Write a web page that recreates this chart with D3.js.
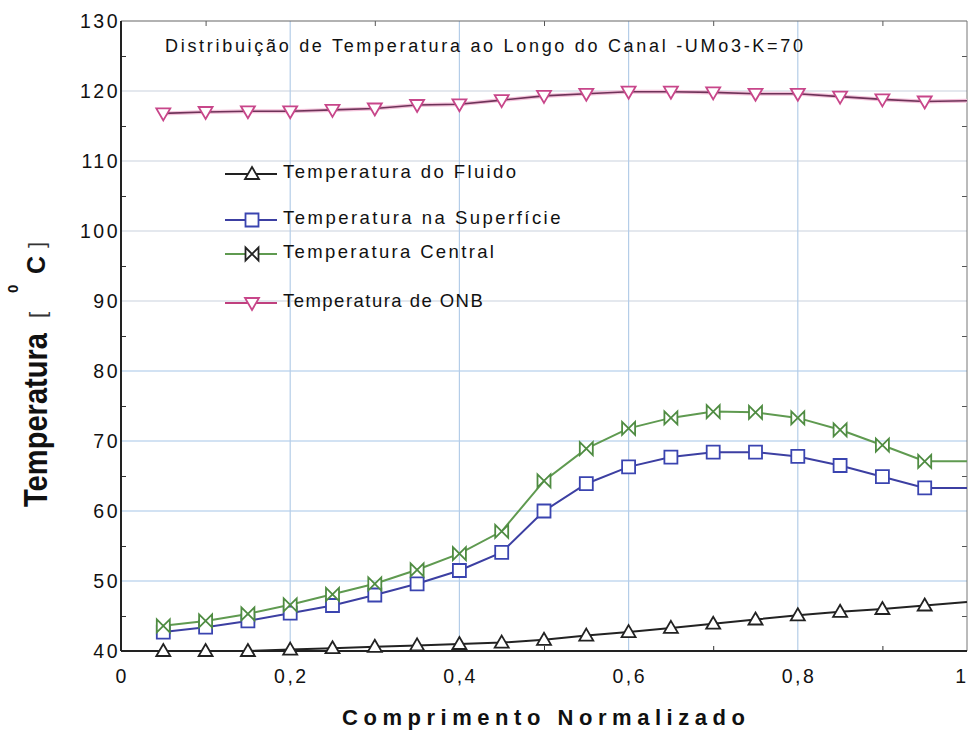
<!DOCTYPE html>
<html>
  <head>
    <meta charset="utf-8">
    <style>
      body { margin: 0; background: #fff; }
      svg { display: block; font-family: "Liberation Sans", Arial, sans-serif; }
    </style>
  </head>
  <body>
    <svg></svg>
    <script src="https://cdn.jsdelivr.net/npm/d3@7"></script>
    <script>
      // posicao normalizada ao longo do canal (o ultimo ponto nao tem marcador)
      var posicao = [0.05, 0.10, 0.15, 0.20, 0.25, 0.30, 0.35, 0.40, 0.45, 0.50,
                     0.55, 0.60, 0.65, 0.70, 0.75, 0.80, 0.85, 0.90, 0.95, 1.00];

      var tFluido = [40.0, 40.0, 40.0, 40.2, 40.4, 40.6, 40.8, 41.0, 41.2, 41.6,
                     42.2, 42.7, 43.3, 43.9, 44.5, 45.1, 45.6, 46.0, 46.5, 47.0];
      var tSuperficie = [42.7, 43.4, 44.3, 45.4, 46.5, 48.0, 49.6, 51.5, 54.1, 60.0,
                         63.9, 66.3, 67.7, 68.4, 68.4, 67.8, 66.5, 64.9, 63.3, 63.3];
      var tCentral = [43.6, 44.3, 45.3, 46.6, 48.1, 49.6, 51.6, 53.9, 57.1, 64.3,
                      68.9, 71.8, 73.3, 74.2, 74.1, 73.3, 71.6, 69.4, 67.1, 67.1];
      var tONB = [116.8, 117.0, 117.1, 117.1, 117.3, 117.5, 118.0, 118.1, 118.7, 119.3,
                  119.6, 119.9, 119.9, 119.8, 119.6, 119.6, 119.2, 118.8, 118.5, 118.6];

      var nomes = ["Temperatura do Fluido", "Temperatura na Superfície",
                   "Temperatura Central", "Temperatura de ONB"];

      var yTicks = [40, 50, 60, 70, 80, 90, 100, 110, 120, 130];
      var xTicks = [0, 0.2, 0.4, 0.6, 0.8, 1];
      var xTickLabels = ["0", "0,2", "0,4", "0,6", "0,8", "1"];

      var titulo = "Distribuição de Temperatura ao Longo do Canal -UMo3-K=70";

      var svgWidth = 969, svgHeight = 735;
      var margin = { top: 21, right: 2, bottom: 84, left: 121 };
      var width = svgWidth - margin.left - margin.right;
      var height = svgHeight - margin.top - margin.bottom;

      var svg = d3.select("svg")
        .attr("width", svgWidth)
        .attr("height", svgHeight);

      var g = svg.append("g")
        .attr("transform", "translate(" + margin.left + "," + margin.top + ")");

      var x = d3.scaleLinear().domain([0, 1]).range([0, width]);
      var y = d3.scaleLinear().domain([40, 130]).range([height, 0]);

      // grade
      g.append("g").selectAll("line")
        .data(yTicks.filter(d => d > 40 && d < 130))
        .join("line")
        .attr("x1", 0).attr("x2", width)
        .attr("y1", d => y(d)).attr("y2", d => y(d))
        .attr("stroke", d => d <= 80 ? "#a6c6e8" : "#c9d2de")
        .attr("stroke-width", 1.2);

      g.append("g").selectAll("line")
        .data(xTicks.filter(d => d > 0 && d < 1))
        .join("line")
        .attr("x1", d => x(d)).attr("x2", d => x(d))
        .attr("y1", 0).attr("y2", height)
        .attr("stroke", "#b4cde8")
        .attr("stroke-width", 1.2);

      // eixos com marcas menores para dentro
      var minorY = d3.range(45, 130, 10);
      var minorX = d3.range(0.1, 1, 0.2);

      g.append("g")
        .call(d3.axisRight(y).tickValues(minorY).tickSize(5).tickFormat(""))
        .call(a => a.select(".domain").remove())
        .selectAll("line").attr("stroke", "#333");
      g.append("g")
        .attr("transform", "translate(" + width + ",0)")
        .call(d3.axisLeft(y).tickValues(minorY).tickSize(5).tickFormat(""))
        .call(a => a.select(".domain").remove())
        .selectAll("line").attr("stroke", "#555");
      g.append("g")
        .call(d3.axisBottom(x).tickValues(minorX).tickSize(5).tickFormat(""))
        .call(a => a.select(".domain").remove())
        .selectAll("line").attr("stroke", "#555");
      g.append("g")
        .attr("transform", "translate(0," + height + ")")
        .call(d3.axisTop(x).tickValues(minorX).tickSize(5).tickFormat(""))
        .call(a => a.select(".domain").remove())
        .selectAll("line").attr("stroke", "#333");

      // moldura
      g.append("line").attr("x1", 0).attr("x2", width).attr("y1", 0).attr("y2", 0)
        .attr("stroke", "#666").attr("stroke-width", 1.2);
      g.append("line").attr("x1", width).attr("x2", width).attr("y1", 0).attr("y2", height)
        .attr("stroke", "#777").attr("stroke-width", 1);
      g.append("line").attr("x1", 0).attr("x2", 0).attr("y1", 0).attr("y2", height)
        .attr("stroke", "#222").attr("stroke-width", 2);
      g.append("line").attr("x1", 0).attr("x2", width).attr("y1", height).attr("y2", height)
        .attr("stroke", "#222").attr("stroke-width", 2.2);

      // rotulos dos eixos
      g.append("g").selectAll("text")
        .data(yTicks)
        .join("text")
        .attr("x", -1)
        .attr("y", d => y(d))
        .attr("dy", "0.36em")
        .attr("text-anchor", "end")
        .attr("font-size", 19.5)
        .attr("letter-spacing", 2.5)
        .attr("fill", "#111")
        .text(d => d);

      g.append("g").selectAll("text")
        .data(xTicks)
        .join("text")
        .attr("x", d => d === 1 ? width - 1 : x(d) + 1.2)
        .attr("y", height + 32)
        .attr("text-anchor", d => d === 1 ? "end" : "middle")
        .attr("font-size", 19.5)
        .attr("letter-spacing", d => d === 1 ? 0 : 2.5)
        .attr("fill", "#111")
        .text((d, i) => xTickLabels[i]);

      svg.append("text")
        .attr("x", 342)
        .attr("y", 725)
        .attr("font-size", 22)
        .attr("font-weight", "bold")
        .attr("textLength", 403)
        .attr("lengthAdjust", "spacing")
        .attr("fill", "#111")
        .text("Comprimento Normalizado");

      // titulo do eixo y: Temperatura [ 0C ]
      var yTitle = svg.append("g")
        .attr("transform", "rotate(-90)")
        .attr("fill", "#111");
      yTitle.append("text")
        .attr("x", -507).attr("y", 47)
        .attr("font-size", 33)
        .attr("font-weight", "bold")
        .attr("textLength", 174)
        .attr("lengthAdjust", "spacingAndGlyphs")
        .text("Temperatura");
      yTitle.append("text")
        .attr("x", -318).attr("y", 45)
        .attr("font-size", 22)
        .attr("fill", "#333")
        .text("[");
      yTitle.append("text")
        .attr("x", -293).attr("y", 18)
        .attr("font-size", 15)
        .attr("font-weight", "bold")
        .text("0");
      yTitle.append("text")
        .attr("x", -274).attr("y", 45)
        .attr("font-size", 25)
        .attr("font-weight", "bold")
        .text("C");
      yTitle.append("text")
        .attr("x", -248).attr("y", 44)
        .attr("font-size", 22)
        .attr("fill", "#333")
        .text("]");

      // titulo interno
      svg.append("text")
        .attr("x", 165)
        .attr("y", 52)
        .attr("font-size", 18)
        .attr("textLength", 638)
        .attr("lengthAdjust", "spacing")
        .attr("fill", "#111")
        .text(titulo);

      // series
      var simbolos = {
        triUp: "M0,-7L7,5L-7,5Z",
        square: "M-6.5,-6.5H6.5V6.5H-6.5Z",
        bowtie: "M-6.5,-6.5L6.5,6.5V-6.5L-6.5,6.5Z",
        triDown: "M0,7L7,-5L-7,-5Z"
      };

      var series = [
        { nome: nomes[0], valores: tFluido, linha: "#222", marca: "#222", simbolo: simbolos.triUp, halo: null },
        { nome: nomes[1], valores: tSuperficie, linha: "#3c3fa2", marca: "#3a44b0", simbolo: simbolos.square, halo: null },
        { nome: nomes[2], valores: tCentral, linha: "#5f9a50", marca: "#4f8c42", simbolo: simbolos.bowtie, halo: null },
        { nome: nomes[3], valores: tONB, linha: "#6e3258", marca: "#c8468a", simbolo: simbolos.triDown, halo: "#f3c2da" }
      ];

      var line = d3.line()
        .x(d => x(d[0]))
        .y(d => y(d[1]));

      series.forEach(s => {
        var pts = posicao.map((p, i) => [p, s.valores[i]]);

        if (s.halo) {
          g.append("path")
            .attr("d", line(pts))
            .attr("fill", "none")
            .attr("stroke", s.halo)
            .attr("stroke-width", 4);
        }

        g.append("path")
          .attr("d", line(pts))
          .attr("fill", "none")
          .attr("stroke", s.linha)
          .attr("stroke-width", s.halo ? 1.6 : 2);

        g.append("g").selectAll("path")
          .data(pts.filter(d => d[0] < 1))
          .join("path")
          .attr("transform", d => "translate(" + x(d[0]) + "," + y(d[1]) + ")")
          .attr("d", s.simbolo)
          .attr("fill", "#fff")
          .attr("stroke", s.marca)
          .attr("stroke-width", 1.8);
      });

      // legenda sem caixa
      var legendaY = [174, 220, 254, 303];
      var legenda = svg.append("g").attr("transform", "translate(225,0)");
      var row = legenda.selectAll("g")
        .data(series)
        .join("g")
        .attr("transform", (d, i) => "translate(0," + legendaY[i] + ")");

      row.append("line")
        .attr("x1", 0).attr("x2", 52)
        .attr("stroke", d => d.halo ? "#c0407e" : d.linha)
        .attr("stroke-width", 2);
      row.append("path")
        .attr("transform", "translate(27,0)")
        .attr("d", d => d.simbolo)
        .attr("fill", "#fff")
        .attr("stroke", (d, i) => i === 2 ? "#222" : d.marca)
        .attr("stroke-width", 1.8);
      row.append("text")
        .attr("x", 58)
        .attr("y", -2)
        .attr("dy", "0.35em")
        .attr("font-size", 18.5)
        .attr("textLength", d => d.nome.length * 11.1)
        .attr("lengthAdjust", "spacing")
        .attr("fill", "#111")
        .text(d => d.nome);
    </script>
  </body>
</html>
